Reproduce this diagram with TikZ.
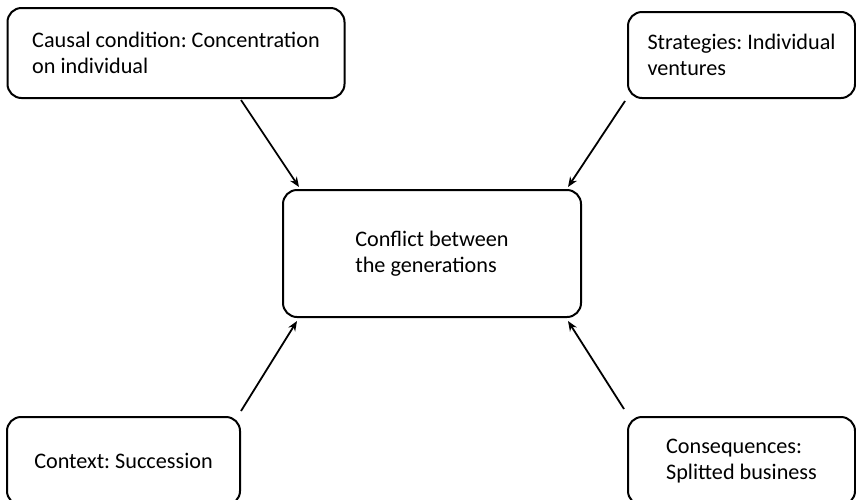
\documentclass[tikz,border=0pt]{standalone}
\usepackage{fontspec}
\setmainfont{Carlito}
\usepackage{tikz}
\usetikzlibrary{arrows.meta,positioning}
\tikzset{
  box/.style ={rectangle, rounded corners=7pt, draw=black, line width=1pt,
               fill=white, align=left, inner sep=3pt,
               font=\fontsize{11.1}{13.3}\selectfont},
  ar/.style  ={-{Stealth[length=5pt,width=4pt]}, draw=black, line width=0.9pt}
}
\frenchspacing

\begin{document}
\begin{tikzpicture}[x=0.5pt, y=-0.5pt]
\useasboundingbox (0,0) rectangle (856,499);
\clip (0,0) rectangle (856,499);
\node[box, minimum width=168.5pt, minimum height=45pt] (cause) at (176,53)
  {Causal condition: Concentration\\on individual};
\node[box, minimum width=113.5pt, minimum height=43pt] (strat) at (741.5,55)
  {Strategies: Individual\\ventures};
\node[box, minimum width=149pt, minimum height=63.5pt] (core) at (432,253.5)
  {Conflict between\\the generations};
\node[box, minimum width=116.5pt, minimum height=44pt] (ctx) at (123.5,461)
  {Context: Succession};
\node[box, minimum width=113.5pt, minimum height=44pt] (cons) at (741.5,461)
  {Consequences:\\Splitted business};
\draw[ar] ([xshift=32.5pt, yshift=-0.5pt]cause.south)
  -- ([xshift=8.5pt, yshift=1pt]core.north west);
\draw[ar] ([xshift=-1pt, yshift=-1pt]strat.south west)
  -- ([xshift=-7pt, yshift=1pt]core.north east);
\draw[ar] ([yshift=2.5pt]ctx.north east)
  -- ([xshift=7.5pt, yshift=-1.5pt]core.south west);
\draw[ar] ([xshift=-1.5pt, yshift=3.5pt]cons.north west)
  -- ([xshift=-7pt, yshift=-1.5pt]core.south east);
\end{tikzpicture}
\end{document}
